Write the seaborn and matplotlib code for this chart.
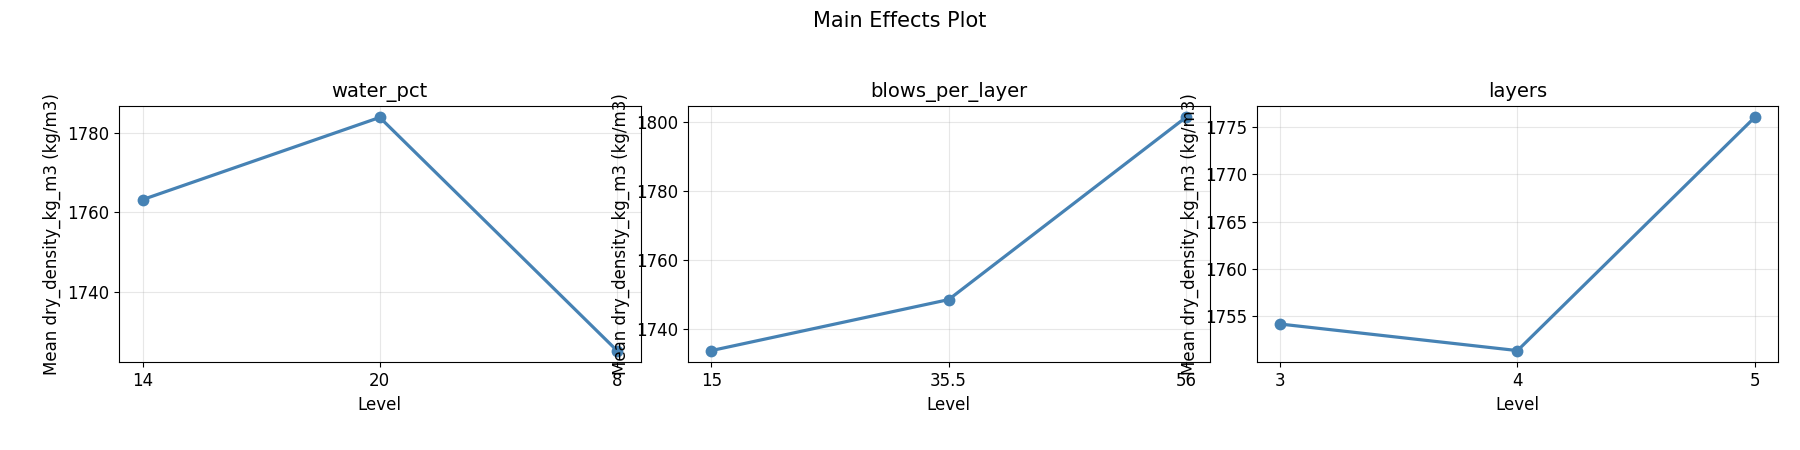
import matplotlib
matplotlib.use("Agg")
import matplotlib.pyplot as plt
from matplotlib.ticker import MultipleLocator
import seaborn as sns
import pandas as pd

factors = ["water_pct", "blows_per_layer", "layers"]
water_levels = ["14", "20", "8"]
water_means = [1763.2, 1783.9, 1725.2]
blows_levels = ["15", "35.5", "56"]
blows_means = [1733.6, 1748.4, 1801.3]
layers_levels = ["3", "4", "5"]
layers_means = [1754.2, 1751.4, 1776.0]

data = [(water_levels, water_means), (blows_levels, blows_means), (layers_levels, layers_means)]
steps = [20, 20, 5]

plt.rcParams['font.family'] = ['DejaVu Sans']
fig, axes = plt.subplots(1, 3, figsize=(18, 4.5), dpi=100)
fig.subplots_adjust(left=0.066, right=0.988, top=0.765, bottom=0.195, wspace=0.09)
for ax, name, (lv, mv), st in zip(axes, factors, data, steps):
    df = pd.DataFrame({"Level": lv, "Mean": mv})
    sns.lineplot(data=df, x="Level", y="Mean", ax=ax, sort=False, color="steelblue",
                 linewidth=2.3, marker="o", markersize=8.5, markeredgewidth=0)
    ax.set_title(name, fontsize=14)
    ax.set_xlabel("Level", fontsize=12)
    ax.set_ylabel("Mean dry_density_kg_m3 (kg/m3)", fontsize=12)
    ax.yaxis.set_major_locator(MultipleLocator(st))
    ax.grid(True, alpha=0.3)
    ax.tick_params(labelsize=12)
fig.suptitle("Main Effects Plot", fontsize=15, y=0.975)
fig.savefig("out.png")
